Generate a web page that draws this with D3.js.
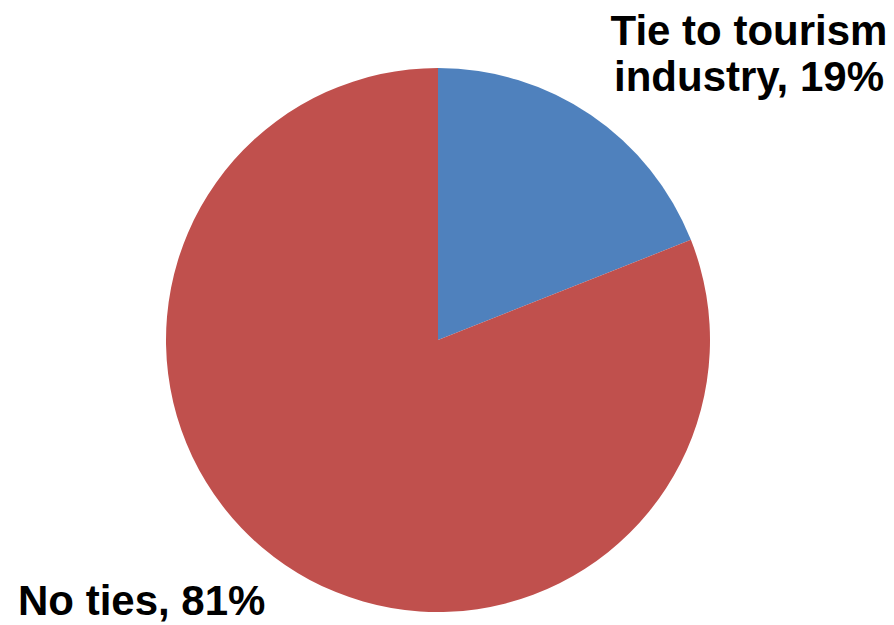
<!DOCTYPE html>
<html>
<head>
<meta charset="utf-8">
<script src="https://d3js.org/d3.v7.min.js"></script>
<style>
  body { margin: 0; background: #fff; }
  text { font-family: "Liberation Sans", Arial, sans-serif; font-weight: bold; fill: #000; }
</style>
</head>
<body>
<div id="grafico"></div>
<script>
// datos del gráfico
var categorias = ["Tie to tourism industry", "No ties"];
var valores = [19, 81];
var colores = ["#4F81BD", "#C0504D"];

var width = 894;
var height = 625;
var cx = 438, cy = 340, radio = 272;

var svg = d3.select("#grafico")
  .append("svg")
  .attr("width", width)
  .attr("height", height);

var pie = d3.pie().sort(null).value(function(d) { return d; });
var arc = d3.arc().innerRadius(0).outerRadius(radio);

var g = svg.append("g").attr("transform", "translate(" + cx + "," + cy + ")");

g.selectAll("path")
  .data(pie(valores))
  .enter()
  .append("path")
  .attr("d", arc)
  .attr("fill", function(d, i) { return colores[i]; });

// etiquetas
var lbl1 = svg.append("text")
  .attr("x", 749)
  .attr("y", 45)
  .attr("text-anchor", "middle")
  .style("font-size", "42px");
lbl1.append("tspan").attr("x", 749).text("Tie to tourism");
lbl1.append("tspan").attr("x", 749).attr("dy", 46).text("industry, " + valores[0] + "%");

svg.append("text")
  .attr("x", 18)
  .attr("y", 615)
  .style("font-size", "42px")
  .text(categorias[1] + ", " + valores[1] + "%");
</script>
</body>
</html>
